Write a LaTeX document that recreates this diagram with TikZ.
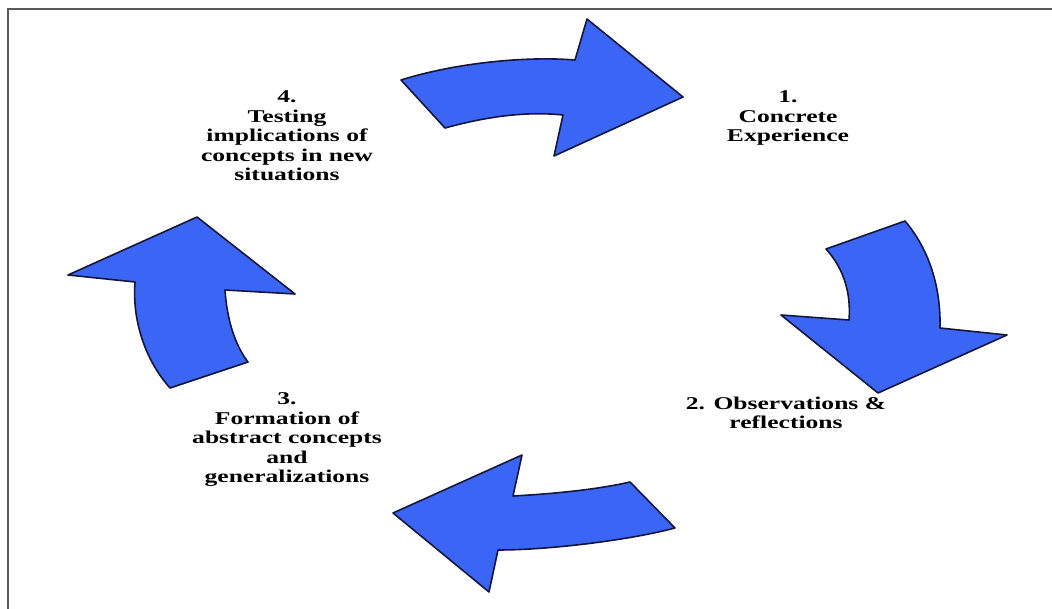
\documentclass[tikz,border=0pt]{standalone}
\usepackage{fontspec}
\setmainfont{Liberation Serif}
\definecolor{arrowblue}{RGB}{59,102,245}
\definecolor{arrowline}{RGB}{20,22,60}
\definecolor{framegray}{RGB}{90,90,90}
\begin{document}
\begin{tikzpicture}[x=1pt,y=-1pt,
  cyclearrow/.style={fill=arrowblue,draw=arrowline,line width=1.6pt,line join=round},
  steplabel/.style={align=center,font=\bfseries\fontsize{18}{19.5}\selectfont,xscale=1.42,transform shape,inner sep=0pt,text=black}]
\useasboundingbox (0,0) rectangle (1052,609);
\draw[framegray,line width=1.8pt] (1052,9) -- (8,9) -- (8,609);
% top arrow (4 -> 1)
\path[cyclearrow] (401,80) -- (445,128) .. controls (485,117) and (525,111) .. (563,115)
  -- (554,156) -- (683,97) -- (587,19) -- (575,60)
  .. controls (525,56) and (455,63) .. (401,80) -- cycle;
% right arrow (1 -> 2)
\path[cyclearrow] (826,249) -- (905,221) .. controls (928,248) and (941,285) .. (940,328)
  -- (1007,335) -- (878,393) -- (781,315) -- (849,320)
  .. controls (851,295) and (845,270) .. (826,249) -- cycle;
% bottom arrow (2 -> 3)
\path[cyclearrow] (393,513) -- (522,455) -- (513,496)
  .. controls (550,494) and (595,490) .. (630,482)
  -- (675,528) .. controls (630,540) and (550,550) .. (498,550)
  -- (489,592) -- cycle;
% left arrow (3 -> 4)
\path[cyclearrow] (197,217) -- (295,294) -- (225,290)
  .. controls (227,320) and (235,345) .. (248,362)
  -- (170,388) .. controls (145,360) and (132,320) .. (135,282)
  -- (68,275) -- cycle;
% labels
\node[steplabel] (s1) at (788,118) {1.\\Concrete\\Experience};
\node[steplabel] (s2) at (786,413) {2. Observations \&\\reflections};
\node[steplabel] (s3) at (287,440) {3.\\Formation of\\abstract concepts\\and\\generalizations};
\node[steplabel] (s4) at (287,136) {4.\\Testing\\implications of\\concepts in new\\situations};
\end{tikzpicture}
\end{document}
